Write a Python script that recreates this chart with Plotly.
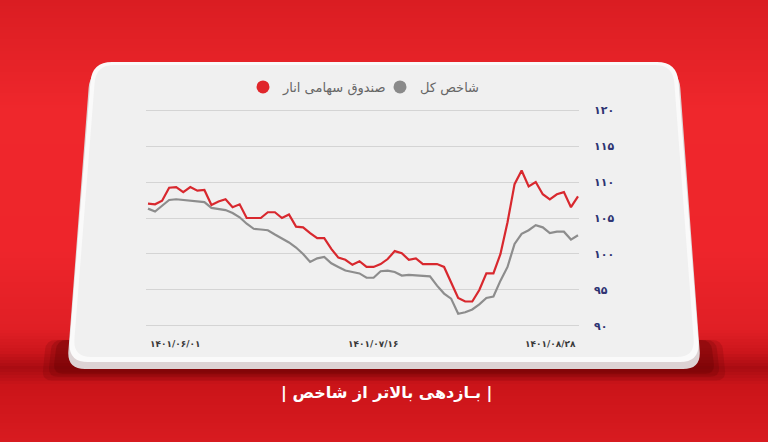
import plotly.graph_objects as go

# ---------------- data ----------------
fund_name = "صندوق سهامی انار"
index_name = "شاخص کل"
title_text = "| بـازدهی بالاتر از شاخص |"

fund_values = [107.0, 106.9, 107.4, 109.2, 109.3, 108.6, 109.3, 108.8, 108.9, 106.8,
               107.3, 107.6, 106.5, 106.9, 105.0, 105.0, 105.0, 105.8, 105.8, 105.0,
               105.5, 103.8, 103.7, 102.9, 102.2, 102.2, 100.7, 99.5, 99.2, 98.5,
               99.0, 98.2, 98.2, 98.6, 99.3, 100.4, 100.1, 99.2, 99.4, 98.6,
               98.6, 98.6, 98.2, 96.1, 93.9, 93.4, 93.4, 95.0, 97.3, 97.3,
               100.0, 104.4, 109.7, 111.6, 109.4, 110.0, 108.3, 107.6, 108.3, 108.6,
               106.5, 108.0]

index_values = [106.3, 105.9, 106.7, 107.5, 107.6, 107.5, 107.5, 107.4, 107.2, 106.4,
                106.2, 106.1, 105.7, 105.1, 104.2, 103.5, 103.4, 103.3, 102.7, 102.2,
                101.6, 100.9, 100.0, 98.9, 99.4, 99.6, 98.7, 98.2, 97.7, 97.5,
                97.3, 96.7, 96.7, 97.6, 97.7, 97.5, 97.0, 97.1, 97.0, 96.9,
                96.9, 95.6, 94.5, 93.8, 91.7, 91.9, 92.3, 93.0, 93.9, 94.1,
                96.3, 98.2, 101.4, 102.8, 103.3, 104.0, 103.7, 102.9, 103.1, 103.1,
                102.0, 102.6]

day_index = list(range(len(fund_values)))

x_tick_positions = [0, 32, 61]
x_tick_labels = ["۱۴۰۱/۰۶/۰۱", "۱۴۰۱/۰۷/۱۶", "۱۴۰۱/۰۸/۲۸"]

y_tick_values = [90, 95, 100, 105, 110, 115, 120]
y_tick_labels = ["۹۰", "۹۵", "۱۰۰", "۱۰۵", "۱۱۰", "۱۱۵", "۱۲۰"]

# ---------------- layout geometry ----------------
W_FIG, H_FIG = 768, 442
L, R, T, B = 146, 579, 107, 329
PW, PH = R - L, B - T

def px(x):
    return (x - L) / PW

def py(y):
    return (B - y) / PH

def hex_to_rgb(h):
    h = h.lstrip('#')
    return tuple(int(h[i:i + 2], 16) for i in (0, 2, 4))

def interp_color(stops, y):
    for (y0, c0), (y1, c1) in zip(stops, stops[1:]):
        if y0 <= y <= y1:
            t = (y - y0) / (y1 - y0) if y1 > y0 else 0
            a, b = hex_to_rgb(c0), hex_to_rgb(c1)
            return "rgb(%d,%d,%d)" % tuple(round(a[i] + (b[i] - a[i]) * t) for i in range(3))
    return stops[-1][1]

bg_stops = [(0, '#da1d22'), (110, '#ef272c'), (250, '#ee252b'), (330, '#e01f25'),
            (352, '#cc151b'), (368, '#a90c12'), (385, '#cb1419'), (442, '#d81b20')]

shapes = []
step = 3
for y in range(0, H_FIG, step):
    shapes.append(dict(type='rect', xref='paper', yref='paper', layer='below',
                       x0=px(-5), x1=px(W_FIG + 5), y0=py(y), y1=py(y + step + 0.6),
                       fillcolor=interp_color(bg_stops, y + step / 2), line=dict(width=0)))

def rounded_path(points, r):
    import math
    n = len(points)
    segs = []
    for i in range(n):
        p = points[i]
        prev = points[i - 1]
        nxt = points[(i + 1) % n]
        def toward(a, b):
            dx, dy = b[0] - a[0], b[1] - a[1]
            d = math.hypot(dx, dy)
            return (a[0] + dx * r / d, a[1] + dy * r / d)
        s = toward(p, prev)
        e = toward(p, nxt)
        segs.append((s, p, e))
    path = "M %f,%f " % (px(segs[0][0][0]), py(segs[0][0][1]))
    for i, (s, p, e) in enumerate(segs):
        if i > 0:
            path += "L %f,%f " % (px(s[0]), py(s[1]))
        path += "Q %f,%f %f,%f " % (px(p[0]), py(p[1]), px(e[0]), py(e[1]))
    path += "Z"
    return path

# shadow under card
for grow, alpha in [(14, 0.16), (8, 0.2), (3, 0.26)]:
    shapes.append(dict(type='path', xref='paper', yref='paper', layer='below',
                       path=rounded_path([(60 - grow, 340), (708 + grow, 340),
                                          (712 + grow, 372 + grow * 0.6), (56 - grow, 372 + grow * 0.6)], 10),
                       fillcolor='rgba(90,0,0,%f)' % alpha, line=dict(width=0)))

# card bottom edge (depth)
shapes.append(dict(type='path', xref='paper', yref='paper', layer='below',
                   path=rounded_path([(90, 70), (679, 70), (701, 369), (67, 369)], 18),
                   fillcolor='#ddd3d4', line=dict(width=0)))
# card face
shapes.append(dict(type='path', xref='paper', yref='paper', layer='below',
                   path=rounded_path([(92, 62), (677, 62), (700, 362), (68, 362)], 20),
                   fillcolor='#fafafa', line=dict(width=0)))
shapes.append(dict(type='path', xref='paper', yref='paper', layer='below',
                   path=rounded_path([(96, 65), (673, 65), (695, 357), (73, 357)], 18),
                   fillcolor='#f0f0f0', line=dict(width=0)))

RED = '#d8282e'
GRAY = '#8d8d8d'

fig = go.Figure()
fig.add_trace(go.Scatter(x=day_index, y=index_values, mode='lines', name=index_name,
                         line=dict(color=GRAY, width=2.2), showlegend=False, hoverinfo='skip'))
fig.add_trace(go.Scatter(x=day_index, y=fund_values, mode='lines', name=fund_name,
                         line=dict(color=RED, width=2.2), showlegend=False, hoverinfo='skip'))
# legend entries (dot markers)
fig.add_trace(go.Scatter(x=[None], y=[None], mode='markers', name=fund_name,
                         marker=dict(color='#e0262b', size=13)))
fig.add_trace(go.Scatter(x=[None], y=[None], mode='markers', name=index_name,
                         marker=dict(color='#8a8a8a', size=13)))

annotations = []
anchors = ['left', 'center', 'right']
for pos, lab, anc in zip(x_tick_positions, x_tick_labels, anchors):
    annotations.append(dict(x=pos, y=py(344), xref='x', yref='paper', text=lab,
                            showarrow=False, xanchor=anc, yanchor='middle',
                            font=dict(family='DejaVu Sans', size=9, color='#3a3a3a', weight='bold')))
annotations.append(dict(x=px(386), y=py(393), xref='paper', yref='paper', text=title_text,
                        showarrow=False, xanchor='center', yanchor='middle',
                        font=dict(family='DejaVu Sans', size=16, color='#ffffff', weight='bold')))

fig.update_layout(
    width=W_FIG, height=H_FIG,
    margin=dict(l=L, r=W_FIG - R, t=T, b=H_FIG - B, pad=0),
    paper_bgcolor='#e3201f', plot_bgcolor='rgba(0,0,0,0)',
    shapes=shapes, annotations=annotations,
    showlegend=True,
    legend=dict(orientation='h', x=px(243), y=py(87), xanchor='left', yanchor='middle',
                bgcolor='rgba(0,0,0,0)', font=dict(family='DejaVu Sans', size=13, color='#666666'),
                entrywidth=92, entrywidthmode='pixels',
                itemclick=False, itemdoubleclick=False),
    xaxis=dict(range=[-0.284, 61.14], showgrid=False, zeroline=False, showticklabels=False,
               showline=False, ticks=''),
    yaxis=dict(range=[89.58, 120.42], side='right', tickvals=y_tick_values, ticktext=y_tick_labels,
               showgrid=True, gridcolor='#d4d4d4', gridwidth=1, zeroline=False, showline=False,
               ticks='', ticklabelstandoff=14,
               tickfont=dict(family='DejaVu Sans', size=11, color='#2e3372', weight='bold')),
)

fig.write_html("out.html", config={'displayModeBar': False},
               post_script="document.body.style.margin='0';document.body.style.padding='0';")
